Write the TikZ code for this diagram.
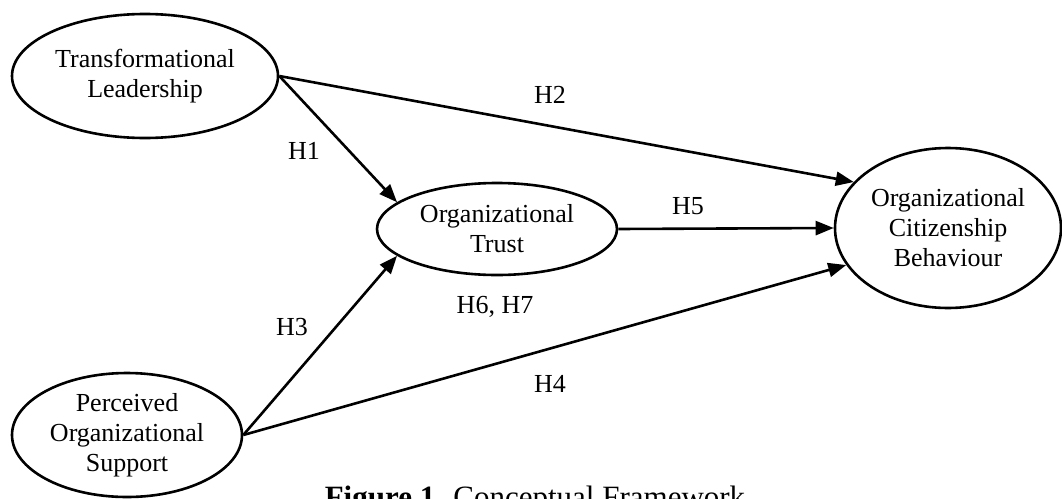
\documentclass[tikz,border=0pt]{standalone}
\usepackage{fontspec}
\setmainfont{Liberation Serif}
\usetikzlibrary{shapes.geometric,arrows.meta}
\begin{document}
\begin{tikzpicture}[x=1pt,y=-1pt,
  construct/.style={draw,ellipse,line width=2.6pt,inner sep=0pt,align=center,
    font=\fontsize{26}{30}\selectfont},
  path/.style={line width=2.6pt,-{Triangle[length=18pt,width=14pt]}},
  hyp/.style={font=\fontsize{26}{30}\selectfont,inner sep=0pt}]
\clip (0,0) rectangle (1062,498);
\useasboundingbox (0,0) rectangle (1062,498);
\node[construct,minimum width=266pt,minimum height=124pt] (TL) at (145,76) {Transformational\\Leadership};
\node[construct,minimum width=240pt,minimum height=92pt] (OT) at (497,229) {Organizational\\Trust};
\node[construct,minimum width=226pt,minimum height=160pt] (OCB) at (948,228) {Organizational\\Citizenship\\Behaviour};
\node[construct,minimum width=230pt,minimum height=124pt] (POS) at (127,435) {Perceived\\Organizational\\Support};
\draw[path] (TL.east) -- (OCB.154);
\draw[path] (TL.east) -- (OT.165);
\draw[path] (OT.east) -- (OCB.west);
\draw[path] (POS.east) -- (OT.195);
\draw[path] (POS.east) -- (OCB.200);
\node[hyp] (h1) at (304,151) {H1};
\node[hyp] (h2) at (550,95) {H2};
\node[hyp] (h3) at (292,327) {H3};
\node[hyp] (h4) at (550,384) {H4};
\node[hyp] (h5) at (688,206) {H5};
\node[hyp] (h67) at (495,307) {H6, H7};
\node[anchor=base,inner sep=0pt,font=\fontsize{31}{36}\selectfont] (cap) at (535,507) {\textbf{Figure 1.} Conceptual Framework};
\end{tikzpicture}
\end{document}
